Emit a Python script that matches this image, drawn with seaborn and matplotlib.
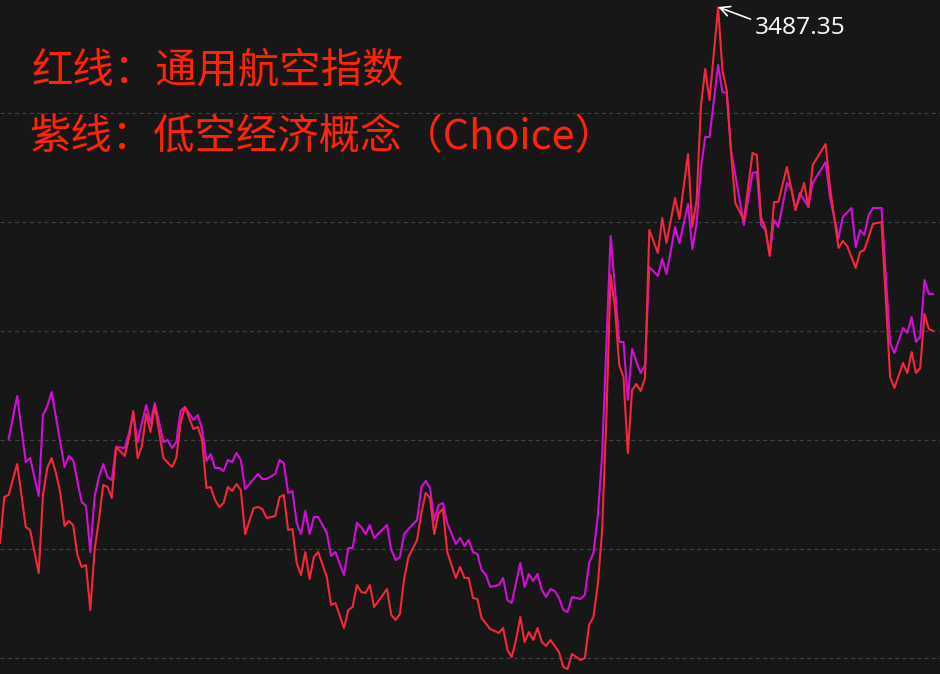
import numpy as np
import pandas as pd
import matplotlib
matplotlib.use('Agg')
import matplotlib.pyplot as plt
import seaborn as sns

# 交易日序号 + 指数点位（紫线已按红线刻度叠加）
red_days = [0, 1, 2, 4, 6, 7, 9, 10, 11, 12,
            13, 14, 15, 16, 17, 18, 19, 20, 21, 22,
            23, 24, 25, 26, 27, 29, 30, 31, 32, 33,
            34, 35, 36, 38, 40, 41, 42, 43, 45, 46,
            47, 48, 49, 50, 51, 52, 53, 54, 55, 56,
            57, 58, 59, 60, 61, 62, 64, 65, 66, 67,
            68, 69, 70, 71, 72, 73, 74, 76, 77, 78,
            80, 81, 82, 83, 84, 85, 86, 87, 88, 90,
            91, 92, 93, 94, 95, 97, 98, 99, 100, 101,
            102, 103, 104, 105, 106, 107, 108, 109, 110, 111,
            112, 114, 116, 117, 118, 119, 120, 121, 122, 123,
            124, 125, 126, 127, 128, 129, 130, 131, 132, 133,
            135, 136, 137, 138, 139, 140, 141, 142, 143, 144,
            145, 146, 147, 148, 149, 150, 151, 153, 154, 155,
            156, 157, 158, 160, 161, 162, 163, 164, 165, 167,
            168, 169, 170, 171, 173, 175, 176, 177, 178, 179,
            180, 181, 183, 185, 187, 188, 189, 192, 193, 195,
            196, 197, 199, 200, 201, 203, 205, 207, 208, 210,
            211, 212, 213, 214, 215, 216, 217]
red_vals = [2147.5, 2262.5, 2267.5, 2345, 2187.5, 2180, 2072.5, 2267.5, 2335, 2360,
            2322.5, 2275, 2190, 2202.5, 2192.5, 2117.5, 2087.5, 2092.5, 1980, 2130,
            2205, 2292.5, 2287.5, 2260, 2387.5, 2365, 2410, 2477.5, 2360, 2390,
            2470, 2425, 2490, 2360, 2337.5, 2360, 2447.5, 2487.5, 2432.5, 2437.5,
            2405, 2285, 2287.5, 2255, 2237.5, 2247.5, 2287.5, 2277.5, 2295, 2280,
            2170, 2202.5, 2235, 2237.5, 2232.5, 2210, 2215, 2262.5, 2267.5, 2180,
            2182.5, 2097.5, 2067.5, 2125, 2057.5, 2112.5, 2125, 2062.5, 1992.5, 1997.5,
            1935, 1980, 1987.5, 2042.5, 2025, 2022.5, 2042.5, 1987.5, 2002.5, 2032.5,
            1967.5, 1955, 1970, 2060, 2112.5, 2155, 2222.5, 2272.5, 2260, 2170,
            2222.5, 2232.5, 2125, 2092.5, 2060, 2087.5, 2060, 2060, 2010, 2007.5,
            1960, 1932.5, 1922.5, 1935, 1880, 1862.5, 1905, 1962.5, 1900, 1925,
            1905, 1935, 1900, 1890, 1905, 1890, 1875, 1837.5, 1832.5, 1870,
            1855, 1860, 1942.5, 1962.5, 2042.5, 2172.5, 2455, 2817.5, 2737.5, 2592.5,
            2562.5, 2372.5, 2530, 2545, 2527.5, 2560, 2930, 2872.5, 2960, 2897.5,
            2955, 3010, 2957.5, 3120, 2937.5, 3005, 3240, 3332.5, 3255, 3487.35,
            3330, 3280, 3125, 2997.5, 2955, 3122.5, 3117.5, 2960, 2935, 2865,
            3000, 3000, 3087.5, 2980, 3047.5, 2987.5, 3092.5, 3145, 3037.5, 2885,
            2902.5, 2890, 2835, 2875, 2880, 2945, 2950, 2562.5, 2535, 2597.5,
            2572.5, 2625, 2572.5, 2585, 2720, 2682.5, 2677.5]

purple_days = [2, 4, 6, 7, 9, 10, 11, 12, 13, 15,
               16, 17, 19, 20, 21, 22, 23, 24, 25, 26,
               27, 29, 30, 31, 32, 33, 34, 35, 36, 38,
               39, 40, 41, 42, 43, 45, 46, 47, 48, 49,
               50, 51, 52, 53, 54, 55, 56, 57, 58, 60,
               61, 62, 64, 65, 66, 67, 68, 69, 70, 71,
               72, 73, 74, 76, 77, 78, 80, 81, 82, 83,
               84, 85, 86, 87, 90, 91, 92, 93, 94, 95,
               97, 98, 99, 100, 101, 102, 103, 104, 106, 107,
               108, 109, 110, 111, 112, 113, 114, 116, 117, 118,
               119, 121, 122, 123, 124, 125, 126, 127, 128, 129,
               130, 131, 132, 133, 135, 136, 137, 138, 139, 140,
               141, 142, 143, 144, 145, 146, 147, 148, 149, 150,
               151, 153, 154, 155, 157, 158, 160, 161, 162, 163,
               164, 165, 167, 168, 169, 170, 173, 175, 176, 177,
               178, 179, 180, 181, 183, 184, 185, 186, 188, 189,
               192, 193, 195, 196, 198, 199, 200, 201, 202, 203,
               205, 207, 208, 210, 211, 212, 213, 214, 215, 216,
               217]
purple_vals = [2407.5, 2515, 2350, 2360, 2265, 2467.5, 2490, 2525, 2462.5, 2337.5,
               2365, 2355, 2250, 2240, 2125, 2262.5, 2312.5, 2345, 2312.5, 2305,
               2387.5, 2385, 2422.5, 2472.5, 2400, 2447.5, 2492.5, 2447.5, 2497.5, 2400,
               2405, 2385, 2400, 2477.5, 2487.5, 2455, 2467.5, 2432.5, 2352.5, 2370,
               2335, 2335, 2327.5, 2355, 2350, 2372.5, 2355, 2282.5, 2295, 2320,
               2307.5, 2307.5, 2320, 2355, 2347.5, 2272.5, 2277.5, 2197.5, 2170, 2227.5,
               2170, 2212.5, 2212.5, 2172.5, 2115, 2125, 2067.5, 2135, 2135, 2197.5,
               2187.5, 2170, 2192.5, 2160, 2192.5, 2130, 2105, 2112.5, 2170, 2182.5,
               2205, 2287.5, 2302.5, 2285, 2205, 2242.5, 2247.5, 2197.5, 2145, 2160,
               2140, 2155, 2125, 2120, 2080, 2067.5, 2037.5, 2042.5, 2060, 2005,
               1997.5, 2097.5, 2037.5, 2070, 2052.5, 2070, 2030, 2012.5, 2032.5, 2027.5,
               2010, 1980, 1975, 2012.5, 2007.5, 2017.5, 2097.5, 2122.5, 2212.5, 2362.5,
               2637.5, 2915, 2787.5, 2650, 2650, 2505, 2632.5, 2600, 2572.5, 2592.5,
               2837.5, 2815, 2857.5, 2820, 2937.5, 2897.5, 2995, 2882.5, 2947.5, 3085,
               3162.5, 3162.5, 3342.5, 3275, 3272.5, 3130, 2942.5, 3072.5, 3075, 2942.5,
               2930, 2867.5, 2955, 2937.5, 3047.5, 3035, 2980, 3022.5, 2987.5, 3047.5,
               3100, 3012.5, 2910, 2962.5, 2985, 2887.5, 2930, 2917.5, 2967.5, 2985,
               2985, 2647.5, 2622.5, 2685, 2672.5, 2712.5, 2650, 2662.5, 2805, 2770,
               2770]

label_red = '红线：通用航空指数'
label_purple = '紫线：低空经济概念（Choice）'

bg = '#171717'
sns.set_theme(style='dark', rc={'axes.facecolor': bg, 'figure.facecolor': bg})
plt.rcParams['font.family'] = ['Noto Sans CJK SC', 'DejaVu Sans']

df_red = pd.DataFrame({'day': red_days, 'value': red_vals})
df_purple = pd.DataFrame({'day': purple_days, 'value': purple_vals})

fig = plt.figure(figsize=(9.4, 6.74), dpi=100)
ax = fig.add_axes([0, 0, 1, 1])
ax.set_facecolor(bg)

sns.lineplot(data=df_purple, x='day', y='value', color='#d10fd6', linewidth=1.5, ax=ax)
sns.lineplot(data=df_red, x='day', y='value', color='#f5283a', linewidth=1.5, ax=ax)

ax.set_xlim(0, 218.6)
ax.set_ylim(1820, 3505)

# 虚线网格
ax.set_yticks(np.linspace(3223.75, 1861.25, 6))
ax.set_xticks([])
ax.yaxis.grid(True, linestyle=(0, (3.6, 3)), linewidth=0.8, color='#3c424d')
ax.set_axisbelow(True)
ax.tick_params(left=False, bottom=False, labelleft=False, labelbottom=False)
ax.set_xlabel('')
ax.set_ylabel('')
for s in ax.spines.values():
    s.set_visible(False)

ax.text(0.034, 0.8947, label_red, transform=ax.transAxes, color='#ff2408',
        fontsize=29.8, ha='left', va='center')
ax.text(0.031, 0.7953, label_purple, transform=ax.transAxes, color='#ff2408',
        fontsize=29.8, ha='left', va='center')

# 最高点标注
i = int(np.argmax(red_vals))
ax.annotate(f'{red_vals[i]:.2f}', xy=(red_days[i], red_vals[i]),
            xytext=(37, -21), textcoords='offset pixels',
            ha='left', va='center', color='#eef3f8', fontsize=17.6,
            family=['Noto Sans', 'DejaVu Sans'],
            arrowprops=dict(arrowstyle='->', color='white', lw=1.2,
                            relpos=(0, 0.8), shrinkA=1, shrinkB=0))

fig.savefig('out.png', dpi=100, facecolor=bg)
